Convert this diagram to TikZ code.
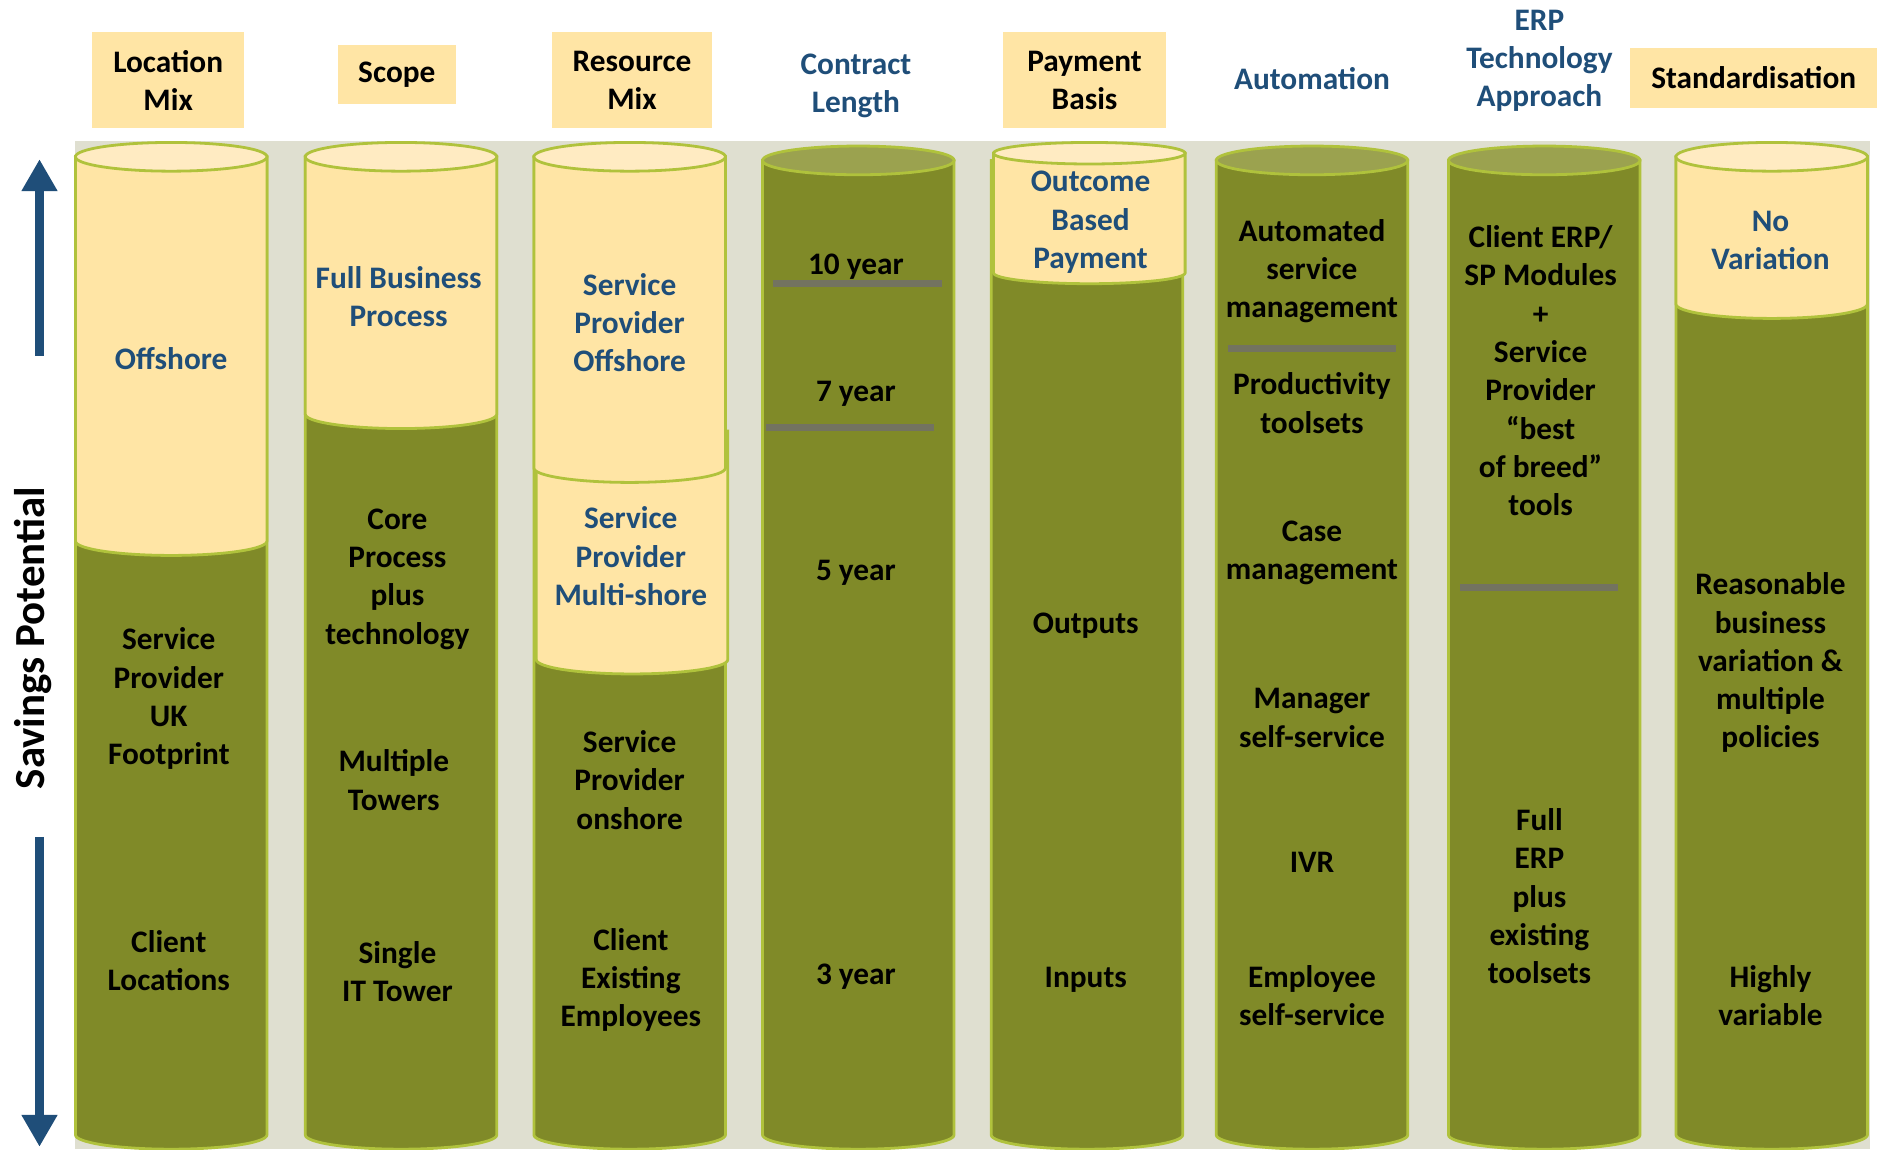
\documentclass[tikz,border=0pt]{standalone}
\usepackage{fontspec}
\setmainfont{Carlito}
\usetikzlibrary{arrows.meta}
\definecolor{creamc}{HTML}{FFE5A5}
\definecolor{creamtop}{HTML}{FFEBC2}
\definecolor{olivec}{HTML}{808A28}
\definecolor{olivetop}{HTML}{9BA24F}
\definecolor{limec}{HTML}{B0C23C}
\definecolor{bgc}{HTML}{DFDFD0}
\definecolor{bluec}{HTML}{1F4E79}
\definecolor{sepc}{HTML}{737360}
\newcommand{\cylbody}[3]{% xl, ytop, ybot
  \path[draw=limec,line width=1.4pt,fill=olivec] (#1,#2) -- (#1,#3)
    arc[start angle=180,end angle=360,x radius=48pt,y radius=7.2pt] -- (#1+160,#2) -- cycle;}
\newcommand{\cylcream}[4]{% xl, ytop, ysplit, ry(pt)
  \path[draw=limec,line width=1.4pt,fill=creamc] (#1,#2) -- (#1,#3)
    arc[start angle=180,end angle=360,x radius=48pt,y radius=#4] -- (#1+160,#2) -- cycle;}
\newcommand{\cyltop}[4]{% xl, ytop, fill, ry(pt)
  \path[draw=limec,line width=1.4pt,fill=#3] (#1+80,#2) ellipse[x radius=48pt,y radius=#4];}
\begin{document}
\begin{tikzpicture}[x=0.6pt,y=-0.6pt,
  btxt/.style={font=\bfseries\fontsize{15.7}{19.2}\selectfont,align=center,inner sep=0pt,text=black,yshift=-1.6pt},
  bltxt/.style={btxt,text=bluec},
  hbox/.style={font=\bfseries\fontsize{15.7}{19.2}\selectfont,align=center,inner sep=0pt,text=black,fill=creamc},
  sepline/.style={draw=sepc,line width=3.6pt},
  bigarrow/.style={draw=bluec,line width=5pt,-{Triangle[width=17pt,length=16pt]}}]
\useasboundingbox (0,0) rectangle (1568,960);
\fill[white] (0,0) rectangle (1568,960);
\fill[bgc] (63,118) rectangle (1562,960);

% headers
\node[hbox,minimum width=76.2pt,minimum height=48pt] (h1) at (140.5,67) {Location\\Mix};
\node[hbox,minimum width=59.4pt,minimum height=29.4pt] (h2) at (331.5,62.5) {Scope};
\node[hbox,minimum width=80.4pt,minimum height=48pt] (h3) at (528,67) {Resource\\Mix};
\node[bltxt] (h4) at (715,69) {Contract\\Length};
\node[hbox,minimum width=81.6pt,minimum height=48pt] (h5) at (906,67) {Payment\\Basis};
\node[bltxt] (h6) at (1096,63) {Automation};
\node[bltxt] (h7) at (1286,48) {ERP\\Technology\\Approach};
\node[hbox,minimum width=123.6pt,minimum height=30pt] (h8) at (1465,65) {Standardisation};

% column 1
\cylbody{63}{131}{948}
\cylcream{63}{131}{452}{7.2pt}
\cyltop{63}{131}{creamtop}{7.2pt}
% column 2
\cylbody{255}{131}{948}
\cylcream{255}{131}{346}{7.2pt}
\cyltop{255}{131}{creamtop}{7.2pt}
% column 3
\cylbody{446}{131}{948}
\cylcream{448}{360}{551}{7.2pt}
\cylcream{446}{131}{391}{7.2pt}
\cyltop{446}{131}{creamtop}{7.2pt}
% column 4
\cylbody{637}{134}{948}
\cyltop{637}{134}{olivetop}{7.2pt}
% column 5
\cylbody{828}{134}{948}
\cylcream{830}{128}{228}{5.4pt}
\cyltop{830}{128}{creamtop}{5.4pt}
% column 6
\cylbody{1016}{134}{948}
\cyltop{1016}{134}{olivetop}{7.2pt}
% column 7
\cylbody{1210}{134}{948}
\cyltop{1210}{134}{olivetop}{7.2pt}
% column 8
\cylbody{1400}{131}{948}
\cylcream{1400}{131}{254}{7.2pt}
\cyltop{1400}{131}{creamtop}{7.2pt}

% separator lines
\draw[sepline] (646,237) -- (787,237);
\draw[sepline] (640,357) -- (780,357);
\draw[sepline] (1026,291) -- (1166,291);
\draw[sepline] (1220,491) -- (1352,491);

% column 1 texts
\node[bltxt] (c1a) at (143,297) {Offshore};
\node[btxt] (c1b) at (141,581) {Service\\Provider\\UK\\Footprint};
\node[btxt] (c1c) at (141,800) {Client\\Locations};
% column 2 texts
\node[bltxt] (c2a) at (333,245) {Full Business\\Process};
\node[btxt] (c2b) at (332,481) {Core\\Process\\plus\\technology};
\node[btxt] (c2c) at (329,649) {Multiple\\Towers};
\node[btxt] (c2d) at (332,809) {Single\\IT Tower};
% column 3 texts
\node[bltxt] (c3a) at (526,267) {Service\\Provider\\Offshore};
\node[bltxt] (c3b) at (527,462) {Service\\Provider\\Multi-shore};
\node[btxt] (c3c) at (526,649) {Service\\Provider\\onshore};
\node[btxt] (c3d) at (527,816) {Client\\Existing\\Employees};
% column 4 texts
\node[btxt] (c4a) at (715,220) {10 year};
\node[btxt] (c4b) at (715,326) {7 year};
\node[btxt] (c4c) at (715,476) {5 year};
\node[btxt] (c4d) at (715,813) {3 year};
% column 5 texts
\node[bltxt] (c5a) at (911,183) {Outcome\\Based\\Payment};
\node[btxt] (c5b) at (907,520) {Outputs};
\node[btxt] (c5c) at (907,816) {Inputs};
% column 6 texts
\node[btxt] (c6a) at (1096,224) {Automated\\service\\management};
\node[btxt] (c6b) at (1096,334) {Productivity\\toolsets};
\node[btxt] (c6c) at (1096,459) {Case\\management};
\node[btxt] (c6d) at (1096,597) {Manager\\self-service};
\node[btxt] (c6e) at (1096,718) {IVR};
\node[btxt] (c6f) at (1096,829) {Employee\\self-service};
% column 7 texts
\node[btxt] (c7a) at (1287,307) {Client ERP/\\SP Modules\\+\\Service\\Provider\\“best\\of breed”\\tools};
\node[btxt] (c7b) at (1286,746) {Full\\ERP\\plus\\existing\\toolsets};
% column 8 texts
\node[bltxt] (c8a) at (1479,198) {No\\Variation};
\node[btxt] (c8b) at (1479,551) {Reasonable\\business\\variation \&\\multiple\\policies};
\node[btxt] (c8c) at (1479,829) {Highly\\variable};

% savings potential axis
\node[font=\bfseries\fontsize{21.5}{26}\selectfont,rotate=90,inner sep=0pt] (sp) at (28,533) {Savings Potential};
\coordinate (upS) at (33,297);
\coordinate (upE) at (33,133);
\coordinate (dnS) at (33,699);
\coordinate (dnE) at (33,958);
\draw[bigarrow] (upS) -- (upE);
\draw[bigarrow] (dnS) -- (dnE);
\end{tikzpicture}
\end{document}
